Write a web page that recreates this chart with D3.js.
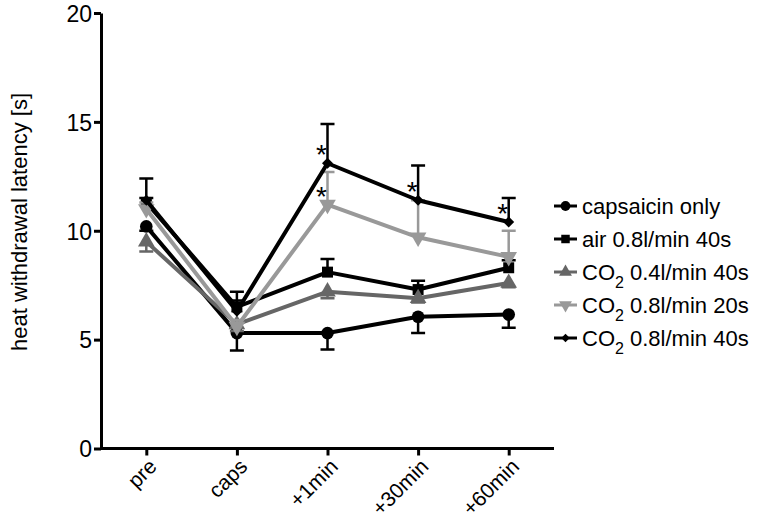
<!DOCTYPE html>
<html>
<head>
<meta charset="utf-8">
<style>
    body { margin: 0; background: #fff; }
    svg text { font-family: "Liberation Sans", Arial, sans-serif; }
    .axis path, .axis line { stroke: #000; stroke-width: 3; }
    .axis text { font-size: 23px; fill: #000; }
</style>
</head>
<body>
<svg width="763" height="523"></svg>
<script src="https://cdn.jsdelivr.net/npm/d3@7"></script>
<script>

    // data
    var timepoints = ["pre", "caps", "+1min", "+30min", "+60min"];
    var yTicks = [0, 5, 10, 15, 20];

    var capsOnly = [10.2, 5.3, 5.3, 6.05, 6.15];
    var capsOnlyErr = [0.2, 0.8, 0.75, 0.75, 0.6];

    var air = [11.3, 6.5, 8.1, 7.3, 8.3];
    var airErr = [0.2, 0.3, 0.6, 0.4, 0.35];

    var co2Low = [9.5, 5.7, 7.2, 6.9, 7.6];
    var co2LowErr = [0.45, 0.3, 0.3, 0.2, 0.2];

    var co2Short = [11.0, 5.6, 11.2, 9.7, 8.8];
    var co2ShortErr = [0.3, 0.3, 1.5, 1.7, 1.2];

    var co2Long = [11.4, 6.3, 13.1, 11.4, 10.4];
    var co2LongErr = [1.0, 0.9, 1.8, 1.6, 1.1];

    // significance marks: [series index, timepoint]
    var stars = [[4, "+1min"], [3, "+1min"], [4, "+30min"], [4, "+60min"]];

    var series = [
        { name: "capsaicin only", sub: null, rest: null, values: capsOnly, err: capsOnlyErr, dir: -1, color: "#000", shape: "circle" },
        { name: "air 0.8l/min 40s", sub: null, rest: null, values: air, err: airErr, dir: 1, color: "#000", shape: "square" },
        { name: "CO", sub: "2", rest: " 0.4l/min 40s", values: co2Low, err: co2LowErr, dir: -1, color: "#666", shape: "triangleUp" },
        { name: "CO", sub: "2", rest: " 0.8l/min 20s", values: co2Short, err: co2ShortErr, dir: 1, color: "#999", shape: "triangleDown" },
        { name: "CO", sub: "2", rest: " 0.8l/min 40s", values: co2Long, err: co2LongErr, dir: 1, color: "#000", shape: "diamond" }
    ];

    var svg = d3.select("svg");

    var x = d3.scalePoint()
        .domain(timepoints)
        .range([101, 554])
        .padding(0.5);

    var y = d3.scaleLinear()
        .domain([0, 20])
        .range([448.5, 13]);

    function symbolPath(shape, scale) {
        var s = scale || 1;
        if (shape == "circle") return d3.symbol(d3.symbolCircle, 125 * s)();
        if (shape == "square") return d3.symbol(d3.symbolSquare, 120 * s)();
        if (shape == "triangleUp" || shape == "triangleDown") return d3.symbol(d3.symbolTriangle, 120 * s)();
        return d3.symbol(d3.symbolSquare, 60 * s)();
    }
    function symbolRotate(shape) {
        if (shape == "triangleDown") return " rotate(180)";
        if (shape == "diamond") return " rotate(45)";
        return "";
    }

    // axes
    svg.append("g")
        .attr("class", "axis")
        .attr("transform", "translate(101,0)")
        .call(d3.axisLeft(y).tickValues(yTicks).tickSize(7).tickSizeOuter(0).tickPadding(2))
        .selectAll("text").attr("dy", "0.36em");

    var xg = svg.append("g")
        .attr("class", "axis")
        .attr("transform", "translate(0,448.5)")
        .call(d3.axisBottom(x).tickSize(7).tickSizeOuter(0));
    xg.select(".domain").attr("d", "M101,0H554");
    xg.selectAll("text")
        .attr("text-anchor", "end")
        .attr("dy", "0.35em")
        .attr("transform", "translate(6,14) rotate(-45)")
        .attr("x", 0)
        .attr("y", 0)
        .style("font-size", "21px");

    svg.append("text")
        .attr("transform", "translate(27,222) rotate(-90)")
        .attr("text-anchor", "middle")
        .style("font-size", "22px")
        .text("heat withdrawal latency [s]");

    var line = d3.line()
        .x(function (d, i) { return x(timepoints[i]); })
        .y(function (d) { return y(d); });

    // one group per series
    series.forEach(function (s) {
        var g = svg.append("g");

        g.selectAll("path.err")
            .data(s.values)
            .enter().append("path")
            .attr("class", "err")
            .attr("fill", "none")
            .attr("stroke", s.color)
            .attr("stroke-width", 2.5)
            .attr("d", function (d, i) {
                var cx = x(timepoints[i]);
                var ey = y(d + s.dir * s.err[i]);
                return "M" + cx + "," + y(d) + "V" + ey + "M" + (cx - 7) + "," + ey + "H" + (cx + 7);
            });

        g.append("path")
            .datum(s.values)
            .attr("fill", "none")
            .attr("stroke", s.color)
            .attr("stroke-width", 4)
            .attr("stroke-linejoin", "round")
            .attr("d", line);

        g.selectAll("path.mark")
            .data(s.values)
            .enter().append("path")
            .attr("class", "mark")
            .attr("fill", s.color)
            .attr("d", symbolPath(s.shape))
            .attr("transform", function (d, i) {
                return "translate(" + x(timepoints[i]) + "," + y(d) + ")" + symbolRotate(s.shape);
            });
    });

    // asterisks
    svg.selectAll("text.star")
        .data(stars)
        .enter().append("text")
        .attr("class", "star")
        .attr("x", function (d) { return x(d[1]) - 6; })
        .attr("y", function (d) { return y(series[d[0]].values[timepoints.indexOf(d[1])]) + 1; })
        .attr("text-anchor", "middle")
        .style("font-size", "28px")
        .text("*");

    // legend
    var legend = svg.append("g")
        .attr("transform", "translate(554,206)");

    var rows = legend.selectAll("g")
        .data(series)
        .enter().append("g")
        .attr("transform", function (d, i) { return "translate(0," + (i * 33) + ")"; });

    rows.append("line")
        .attr("x1", 0).attr("x2", 23)
        .attr("stroke", function (d) { return d.color; })
        .attr("stroke-width", 3);

    rows.append("path")
        .attr("fill", function (d) { return d.color; })
        .attr("d", function (d) { return symbolPath(d.shape, 0.6); })
        .attr("transform", function (d) { return "translate(11.5,0)" + symbolRotate(d.shape); });

    var labels = rows.append("text")
        .attr("x", 28)
        .attr("dy", "0.35em")
        .style("font-size", "22px");

    labels.append("tspan").text(function (d) { return d.name; });
    labels.filter(function (d) { return d.sub; })
        .append("tspan")
        .attr("dy", 8)
        .style("font-size", "16px")
        .text(function (d) { return d.sub; });
    labels.filter(function (d) { return d.sub; })
        .append("tspan")
        .attr("dy", -8)
        .text(function (d) { return d.rest; });

</script>
</body>
</html>
